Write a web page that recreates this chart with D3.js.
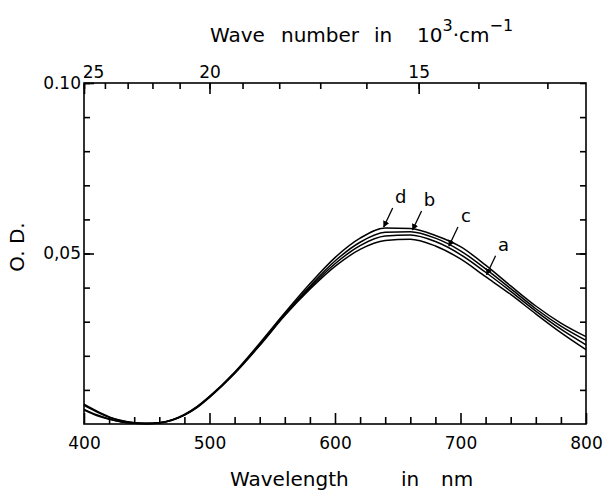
<!DOCTYPE html>
<html>
<head>
<meta charset="utf-8">
<script src="https://cdn.jsdelivr.net/npm/d3@7"></script>
<style>
  body { margin: 0; background: #fff; }
  svg { font-family: "DejaVu Sans", sans-serif; }
</style>
</head>
<body>
<svg id="chart"></svg>
<script>
// wavelength (nm) and optical density of the four spectra
const wavelengths = [400,410,420,430,440,450,460,470,480,490,500,520,540,560,580,600,620,640,660,680,700,720,740,760,780,800];
const odD = [0.0058,0.0038,0.0021,0.0010,0.0004,0.0002,0.0004,0.0012,0.0028,0.0051,0.0081,0.0152,0.0237,0.0326,0.0411,0.0488,0.0545,0.0575,0.0573,0.0553,0.0520,0.0466,0.0405,0.0346,0.0296,0.0256];
const odB = [0.0055,0.0036,0.0020,0.0009,0.0004,0.0002,0.0004,0.0012,0.0027,0.0050,0.0080,0.0150,0.0234,0.0322,0.0404,0.0478,0.0533,0.0562,0.0564,0.0545,0.0508,0.0455,0.0397,0.0338,0.0287,0.0245];
const odC = [0.0043,0.0027,0.0015,0.0006,0.0002,0.0001,0.0003,0.0011,0.0026,0.0049,0.0079,0.0149,0.0232,0.0320,0.0400,0.0470,0.0523,0.0551,0.0554,0.0535,0.0497,0.0445,0.0389,0.0331,0.0278,0.0232];
const odA = [0.0041,0.0025,0.0014,0.0006,0.0002,0.0001,0.0003,0.0011,0.0026,0.0048,0.0078,0.0148,0.0230,0.0318,0.0395,0.0462,0.0512,0.0538,0.0542,0.0522,0.0484,0.0432,0.0380,0.0323,0.0268,0.0218];

const seriesNames = ['d', 'b', 'c', 'a'];
const seriesValues = [odD, odB, odC, odA];
const labelAt = [638, 661, 690, 720];   // wavelength where each label arrow points

// tick values
const xMajor = [400, 500, 600, 700, 800];
const xMinor = d3.range(400, 801, 20);
const yMinor = d3.range(0.01, 0.1001, 0.01);
const yLabels = [0.05, 0.10];
const yLabelText = ['0,05', '0.10'];
const waveNumbers = d3.range(13, 26, 1);     // 10^3 cm^-1
const waveMajor = [25, 20, 15];

const width = 607, height = 493;
const margin = {top: 83, right: 21, bottom: 69, left: 84};

const svg = d3.select('#chart')
    .attr('width', width)
    .attr('height', height);

const x = d3.scaleLinear()
    .domain([400, 800])
    .range([margin.left, width - margin.right]);
const y = d3.scaleLinear()
    .domain([0, 0.10])
    .range([height - margin.bottom, margin.top]);

const x0 = margin.left, x1 = width - margin.right;
const y0 = height - margin.bottom, y1 = margin.top;

// bottom axis, inward ticks
svg.append('g')
    .attr('transform', `translate(0,${y0})`)
    .call(d3.axisBottom(x).tickValues(xMinor.filter(v => !xMajor.includes(v))).tickSizeInner(-7).tickSizeOuter(0).tickFormat(''))
    .call(g => g.select('.domain').remove());
svg.append('g')
    .attr('transform', `translate(0,${y0})`)
    .call(d3.axisBottom(x).tickValues(xMajor).tickSizeInner(-11).tickSizeOuter(0).tickPadding(13))
    .call(g => g.select('.domain').remove())
    .call(g => g.selectAll('text').attr('font-size', 17).attr('font-family', '"DejaVu Sans", sans-serif').attr('fill', '#000'));

// left axis
svg.append('g')
    .attr('transform', `translate(${x0},0)`)
    .call(d3.axisLeft(y).tickValues(yMinor).tickSizeInner(-6).tickSizeOuter(0).tickFormat(''))
    .call(g => g.select('.domain').remove());
svg.append('g')
    .attr('transform', `translate(${x0},0)`)
    .call(d3.axisLeft(y).tickValues(yLabels).tickSizeInner(-10).tickSizeOuter(0).tickPadding(3)
        .tickFormat((d, i) => yLabelText[i]))
    .call(g => g.select('.domain').remove())
    .call(g => g.selectAll('text').attr('font-size', 17).attr('font-family', '"DejaVu Sans", sans-serif').attr('fill', '#000'));

// right axis
svg.append('g')
    .attr('transform', `translate(${x1},0)`)
    .call(d3.axisRight(y).tickValues(yMinor).tickSizeInner(-6).tickSizeOuter(0).tickFormat(''))
    .call(g => g.select('.domain').remove());
svg.append('g')
    .attr('transform', `translate(${x1},0)`)
    .call(d3.axisRight(y).tickValues([0.05]).tickSizeInner(-10).tickSizeOuter(0).tickFormat(''))
    .call(g => g.select('.domain').remove());

// top axis in wave number
svg.append('g')
    .attr('transform', `translate(0,${y1})`)
    .call(d3.axisTop(x).tickValues(waveNumbers.map(w => 1e4 / w)).tickSizeInner(-6).tickSizeOuter(0).tickFormat(''))
    .call(g => g.select('.domain').remove());
svg.append('g')
    .attr('transform', `translate(0,${y1})`)
    .call(d3.axisTop(x).tickValues(waveMajor.map(w => 1e4 / w)).tickSizeInner(-11).tickSizeOuter(0).tickPadding(5)
        .tickFormat(d => d3.format('d')(Math.round(1e4 / d))))
    .call(g => g.select('.domain').remove())
    .call(g => g.selectAll('text').attr('font-size', 17).attr('font-family', '"DejaVu Sans", sans-serif').attr('fill', '#000')
        .attr('dx', d => Math.round(1e4 / d) === 25 ? 9 : 0));

svg.selectAll('.tick line').attr('stroke', '#000').attr('stroke-width', 1.6);

// frame
svg.append('rect')
    .attr('x', x0).attr('y', y1)
    .attr('width', x1 - x0).attr('height', y0 - y1)
    .attr('fill', 'none')
    .attr('stroke', '#000')
    .attr('stroke-width', 1.6);

// spectra
const line = d3.line()
    .x((d, i) => x(wavelengths[i]))
    .y(d => y(d))
    .curve(d3.curveMonotoneX);

svg.append('g')
    .selectAll('path')
    .data(seriesValues)
    .join('path')
    .attr('d', line)
    .attr('fill', 'none')
    .attr('stroke', '#000')
    .attr('stroke-width', 1.5);

// arrow labels
svg.append('defs').append('marker')
    .attr('id', 'head')
    .attr('viewBox', '0 0 10 10')
    .attr('refX', 9).attr('refY', 5)
    .attr('markerWidth', 5).attr('markerHeight', 5)
    .attr('orient', 'auto')
    .append('path')
    .attr('d', 'M0,0L10,5L0,10z')
    .attr('fill', '#000');

const interp = (vals, nm) => {
    const i = d3.bisectRight(wavelengths, nm) - 1;
    const t = (nm - wavelengths[i]) / (wavelengths[i + 1] - wavelengths[i]);
    return vals[i] + t * (vals[i + 1] - vals[i]);
};

seriesNames.forEach((name, i) => {
    const px = x(labelAt[i]);
    const py = y(interp(seriesValues[i], labelAt[i]));
    svg.append('line')
        .attr('x1', px + 10).attr('y1', py - 21)
        .attr('x2', px + 1).attr('y2', py - 2)
        .attr('stroke', '#000')
        .attr('stroke-width', 1.3)
        .attr('marker-end', 'url(#head)');
    svg.append('text')
        .attr('x', px + 18).attr('y', py - 26)
        .attr('text-anchor', 'middle')
        .attr('font-size', 18)
        .text(name);
});

// axis titles
const title = svg.append('text')
    .attr('y', 42)
    .attr('font-size', 20);
title.append('tspan').attr('x', 210).text('Wave');
title.append('tspan').attr('x', 281).text('number');
title.append('tspan').attr('x', 374).text('in');
title.append('tspan').attr('x', 417).text('10');
title.append('tspan').attr('dy', -11).attr('font-size', 16).text('3');
title.append('tspan').attr('dy', 11).text('·cm');
title.append('tspan').attr('dy', -11).attr('font-size', 16).text('−1');

const xTitle = svg.append('text')
    .attr('y', 486)
    .attr('font-size', 20);
xTitle.append('tspan').attr('x', 230).text('Wavelength');
xTitle.append('tspan').attr('x', 401).text('in');
xTitle.append('tspan').attr('x', 441).text('nm');

svg.append('text')
    .attr('transform', 'translate(24,247) rotate(-90)')
    .attr('text-anchor', 'middle')
    .attr('font-size', 20)
    .text('O. D.');
</script>
</body>
</html>
